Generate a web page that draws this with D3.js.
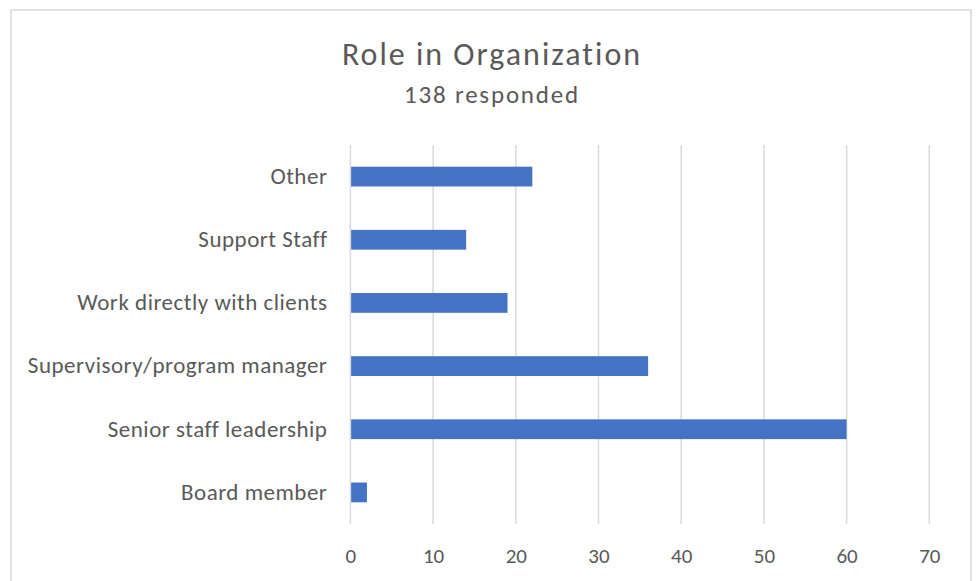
<!DOCTYPE html>
<html><head><meta charset="utf-8">
<script src="https://cdn.jsdelivr.net/npm/d3@7"></script>
<style>body{margin:0;background:#fff;}svg{display:block;font-family:Carlito,Calibri,Lato,sans-serif;}</style>
</head><body>
<svg id="c" width="979" height="581"></svg>
<script>
const categories = ["Other","Support Staff","Work directly with clients","Supervisory/program manager","Senior staff leadership","Board member"];
const values = [22,14,19,36,60,2];
const xTicks = [0,10,20,30,40,50,60,70];
const title = "Role in Organization";
const subtitle = "138 responded";

const FONT = "Carlito,Calibri,Lato,sans-serif";
const svg = d3.select("#c");
svg.append("rect").attr("x",11).attr("y",10).attr("width",960).attr("height",600)
  .attr("fill","#fff").attr("stroke","#d9d9d9").attr("stroke-width",1.5);

const x = d3.scaleLinear().domain([0,70]).range([350.4,929.3]);
const y = d3.scaleBand().domain(categories).range([145,524]).paddingInner(0.687).paddingOuter(0.3435);

const grid = svg.append("g");
grid.selectAll("line").data(xTicks).join("line")
  .attr("x1",d=>x(d)).attr("x2",d=>x(d)).attr("y1",145).attr("y2",524)
  .attr("stroke","#d9d9d9").attr("stroke-width",1.5);

svg.append("g").selectAll("rect").data(categories).join("rect")
  .attr("x",x(0)+0.75).attr("y",d=>y(d))
  .attr("width",(d,i)=>x(values[i])-x(0)-0.75).attr("height",y.bandwidth())
  .attr("fill","#4472C4");

const xAxis = d3.axisBottom(x).tickValues(xTicks).tickSize(0).tickPadding(0);
const gx = svg.append("g").attr("transform","translate(0,548)").call(xAxis);
gx.select(".domain").remove();
gx.selectAll("text").attr("fill","#595959").attr("font-size",21).attr("font-family",FONT);

const yAxis = d3.axisLeft(y).tickSize(0).tickPadding(23);
const gy = svg.append("g").attr("transform",`translate(${x(0)},0)`).call(yAxis);
gy.select(".domain").remove();
gy.selectAll("text").attr("fill","#595959").attr("font-size",23).attr("letter-spacing","0.5px").attr("font-family",FONT);

svg.append("text").attr("x",492).attr("y",65).attr("text-anchor","middle")
  .attr("fill","#595959").attr("font-size",32).attr("letter-spacing","2px").text(title);
svg.append("text").attr("x",492).attr("y",103).attr("text-anchor","middle")
  .attr("fill","#595959").attr("font-size",25).attr("letter-spacing","1.8px").text(subtitle);
</script>
</body></html>
